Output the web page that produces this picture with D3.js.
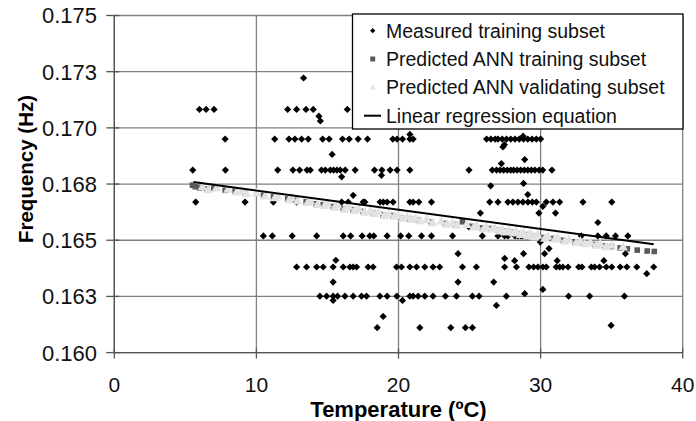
<!DOCTYPE html>
<html>
<head>
<meta charset="utf-8">
<script src="https://cdn.jsdelivr.net/npm/d3@7/dist/d3.min.js"></script>
<style>
  body { margin: 0; background: #fff; }
  svg { display: block; font-family: "Liberation Sans", Arial, sans-serif; }
</style>
</head>
<body>
<div id="chart"></div>
<script>
// ---- data ----
const xTicks = [0, 10, 20, 30, 40];
const yTicks = [0.160, 0.1625, 0.165, 0.1675, 0.170, 0.1725, 0.175];
const yTickLabels = ["0.160", "0.163", "0.165", "0.168", "0.170", "0.173", "0.175"];

// measured training subset [temperature, frequency]
const measured = [
  [13.32, 0.17222],
  [5.99, 0.17082], [6.46, 0.17082], [7.02, 0.17082], [12.2, 0.17082], [12.83, 0.17082],
  [13.49, 0.17082], [14.0, 0.17082], [16.4, 0.17082], [14.4, 0.17052], [14.5, 0.17031],
  [7.8, 0.1695], [11.29, 0.1695], [12.29, 0.1695], [12.71, 0.1695], [13.18, 0.1695], [13.65, 0.1695],
  [14.66, 0.1695], [15.12, 0.1695], [16.06, 0.1695], [16.53, 0.1695], [17.16, 0.1695], [17.82, 0.1695],
  [19.6, 0.1695], [19.9, 0.1695], [20.28, 0.1695], [20.8, 0.1695], [21.03, 0.1695], [20.8, 0.16971],
  [26.2, 0.1695], [26.5, 0.1695], [26.8, 0.1695], [27.0, 0.1695], [27.3, 0.1695], [27.6, 0.1695],
  [27.9, 0.1695], [28.2, 0.1695], [28.5, 0.1695], [28.8, 0.1695], [29.1, 0.1695], [29.4, 0.1695],
  [29.7, 0.1695], [30.0, 0.1695], [28.77, 0.16963], [27.35, 0.16915], [27.45, 0.16925],
  [5.52, 0.16812], [7.82, 0.16812], [11.5, 0.16812], [12.57, 0.16812], [13.04, 0.16812], [13.56, 0.16812],
  [13.79, 0.16812], [14.58, 0.16812], [14.85, 0.16812], [15.2, 0.16812], [15.43, 0.16812], [15.66, 0.16812],
  [15.9, 0.16812], [16.25, 0.16812], [16.95, 0.16812], [18.31, 0.16812], [18.83, 0.16812], [19.41, 0.16812],
  [19.9, 0.16812], [20.8, 0.16812], [24.96, 0.16812], [26.6, 0.16812], [26.9, 0.16812], [27.15, 0.16812],
  [27.4, 0.16812], [27.65, 0.16812], [27.9, 0.16812], [28.1, 0.16812], [28.35, 0.16812], [28.6, 0.16812],
  [28.85, 0.16812], [29.1, 0.16812], [29.35, 0.16812], [29.6, 0.16812], [29.9, 0.16812], [30.15, 0.16812],
  [30.8, 0.16812], [15.33, 0.16882], [16.0, 0.16782], [18.8, 0.16789], [27.24, 0.16841], [28.88, 0.16859],
  [26.49, 0.16742], [28.8, 0.16753], [29.1, 0.16703],
  [5.73, 0.1667], [9.2, 0.1667], [11.19, 0.1667], [12.83, 0.1667], [16.0, 0.1667], [16.46, 0.1667],
  [17.51, 0.1667], [17.63, 0.1667], [18.7, 0.1667], [18.93, 0.1667], [19.2, 0.1667], [19.62, 0.1667],
  [20.8, 0.1667], [21.03, 0.1667], [21.43, 0.1667], [22.32, 0.1667], [26.42, 0.1667], [27.0, 0.1667],
  [27.7, 0.1667], [28.05, 0.1667], [28.41, 0.1667], [28.76, 0.1667], [29.11, 0.1667], [29.42, 0.1667],
  [29.7, 0.1667], [30.4, 0.1667], [30.87, 0.1667], [31.34, 0.1667], [32.98, 0.1667], [35.01, 0.1667],
  [16.81, 0.167], [30.16, 0.16651], [29.88, 0.16621], [31.05, 0.16621], [25.76, 0.16621],
  [34.03, 0.16579], [24.96, 0.16559],
  [10.49, 0.16519], [11.12, 0.16519], [12.52, 0.16519], [14.24, 0.16519], [16.11, 0.16519], [16.63, 0.16519],
  [17.44, 0.16519], [17.98, 0.16519], [18.26, 0.16519], [19.2, 0.16519], [20.15, 0.16519], [20.72, 0.16519],
  [21.62, 0.16519], [22.32, 0.16519], [23.8, 0.16519], [25.9, 0.16519], [27.0, 0.16519], [27.47, 0.16519],
  [27.7, 0.16519], [28.2, 0.16519], [28.4, 0.16519], [28.6, 0.16519], [28.75, 0.16519], [28.9, 0.16519],
  [29.05, 0.16519], [32.86, 0.16519], [34.03, 0.16519], [34.62, 0.16519], [35.27, 0.16519], [36.14, 0.16519],
  [29.98, 0.16492], [30.28, 0.1644], [30.59, 0.16463], [24.19, 0.1644], [27.47, 0.16419], [28.17, 0.16409],
  [28.8, 0.1644], [31.17, 0.16409], [34.45, 0.16409], [35.97, 0.1644], [15.59, 0.16411],
  [12.83, 0.16381], [13.53, 0.16381], [14.24, 0.16381], [14.7, 0.16381], [15.4, 0.16381], [16.11, 0.16381],
  [16.58, 0.16381], [16.81, 0.16381], [17.05, 0.16381], [17.86, 0.16381], [18.21, 0.16381], [19.86, 0.16381],
  [20.21, 0.16381], [20.8, 0.16381], [21.27, 0.16381], [21.85, 0.16381], [22.43, 0.16381], [22.9, 0.16381],
  [24.5, 0.16381], [25.48, 0.16381], [27.47, 0.16381], [28.3, 0.16381], [29.18, 0.16381], [29.51, 0.16381],
  [29.81, 0.16381], [30.16, 0.16381], [30.4, 0.16381], [31.1, 0.16381], [31.34, 0.16381], [31.57, 0.16381],
  [31.93, 0.16381], [32.68, 0.16381], [32.91, 0.16381], [33.57, 0.16381], [33.8, 0.16381], [34.15, 0.16381],
  [34.62, 0.16381], [35.01, 0.16381], [35.6, 0.16381], [36.07, 0.16381], [36.77, 0.16381], [37.96, 0.16381],
  [37.47, 0.16351], [24.19, 0.16314], [26.7, 0.16314], [15.4, 0.16314], [30.16, 0.16281], [28.88, 0.16262],
  [14.47, 0.16251], [14.94, 0.16251], [15.4, 0.16251], [15.71, 0.16251], [16.23, 0.16251], [16.81, 0.16251],
  [17.4, 0.16251], [17.75, 0.16251], [18.69, 0.16251], [19.2, 0.16251], [19.88, 0.16251], [20.8, 0.16251],
  [21.03, 0.16251], [21.38, 0.16251], [21.85, 0.16251], [22.43, 0.16251], [23.3, 0.16251], [24.08, 0.16251],
  [25.2, 0.16251], [25.67, 0.16251], [27.59, 0.16251], [31.97, 0.16251], [33.45, 0.16251], [35.9, 0.16251],
  [15.4, 0.16232], [20.28, 0.16232], [26.89, 0.1621], [18.92, 0.16161],
  [18.5, 0.16111], [21.5, 0.16111], [23.68, 0.16111], [24.71, 0.16111], [25.2, 0.16111], [34.96, 0.16121]
];

// predicted ANN training subset
const predTraining = [
  [5.5, 0.16745], [5.7, 0.16738], [6.0, 0.16733], [6.5, 0.16728], [7.0, 0.16731], [7.8, 0.16722],
  [8.5, 0.16718], [9.2, 0.16712], [10.5, 0.167], [11.2, 0.16693], [12.2, 0.16684], [12.8, 0.16678],
  [13.5, 0.16671], [14.2, 0.16662], [14.7, 0.16658], [15.4, 0.1665], [16.1, 0.16641], [16.8, 0.16636],
  [17.5, 0.16628], [18.2, 0.16622], [18.9, 0.16614], [19.6, 0.1661], [20.2, 0.166], [20.8, 0.16596],
  [21.4, 0.1659], [22.3, 0.16581], [23.3, 0.16575], [24.0, 0.1657], [24.5, 0.16582], [25.2, 0.16562],
  [25.9, 0.16555], [26.5, 0.16552], [27.0, 0.16545], [27.5, 0.1654], [28.0, 0.16536], [28.5, 0.16529],
  [29.0, 0.16525], [29.5, 0.16518], [30.2, 0.16512], [30.9, 0.16508], [31.6, 0.165], [32.4, 0.16493],
  [33.0, 0.16488], [33.8, 0.16481], [34.5, 0.16475], [35.0, 0.16472], [35.6, 0.16466], [36.1, 0.16462],
  [36.8, 0.16456], [37.5, 0.16452], [38.0, 0.1645]
];

// predicted ANN validating subset
const predValidating = [
  [6.2, 0.1674], [6.6, 0.16726], [7.2, 0.16735], [8.0, 0.16728], [8.6, 0.16716], [9.0, 0.16722],
  [9.3, 0.1671], [10.0, 0.16712], [10.6, 0.16698], [11.3, 0.16691], [11.5, 0.167], [12.3, 0.16682],
  [12.5, 0.1669], [12.9, 0.16676], [13.6, 0.16669], [13.8, 0.16676], [14.3, 0.1666], [14.8, 0.16656],
  [15.0, 0.16664], [15.5, 0.16648], [15.7, 0.16658], [16.2, 0.16639], [16.5, 0.1665], [16.9, 0.16634],
  [17.2, 0.1664], [17.6, 0.16626], [18.0, 0.16632], [18.3, 0.1662], [18.6, 0.16628], [19.0, 0.16612],
  [19.3, 0.1662], [19.7, 0.16608], [20.0, 0.16612], [20.3, 0.16598], [20.6, 0.16606], [20.9, 0.16594],
  [21.2, 0.166], [21.5, 0.16588], [22.0, 0.16594], [22.4, 0.16579], [23.0, 0.16586], [23.4, 0.16573],
  [23.8, 0.1658], [24.1, 0.16568], [24.8, 0.16572], [25.3, 0.1656], [25.5, 0.16566], [26.0, 0.16553],
  [26.2, 0.1656], [26.6, 0.1655], [26.8, 0.16554], [27.1, 0.16543], [27.3, 0.1655], [27.6, 0.16538],
  [27.8, 0.16545], [28.1, 0.16534], [28.3, 0.1654], [28.6, 0.16527], [28.8, 0.16535], [29.1, 0.16523],
  [29.3, 0.1653], [29.6, 0.16516], [29.8, 0.16525], [30.3, 0.1651], [30.5, 0.1652], [31.0, 0.16506],
  [31.2, 0.16512], [31.7, 0.16498], [32.0, 0.16505], [32.5, 0.16491], [32.8, 0.16498], [33.1, 0.16486],
  [33.5, 0.16492], [33.9, 0.16479], [34.2, 0.16485], [34.6, 0.16473], [35.0, 0.16479], [35.8, 0.16472]
];

// linear regression equation end points
const regression = [[5.57, 0.16759], [37.96, 0.16482]];

const legendLabels = [
  "Measured training subset",
  "Predicted ANN training subset",
  "Predicted ANN validating subset",
  "Linear regression equation"
];

// ---- layout ----
const width = 696, height = 421;
const plotLeft = 114.3, plotRight = 682.7, plotTop = 15.5, plotBottom = 352.6;

const svg = d3.select("#chart").append("svg")
  .attr("width", width)
  .attr("height", height);

const x = d3.scaleLinear().domain([0, 40]).range([plotLeft, plotRight]);
const y = d3.scaleLinear().domain([0.160, 0.175]).range([plotBottom, plotTop]);

// gridlines
svg.append("g").selectAll("line")
  .data(yTicks)
  .join("line")
  .attr("x1", plotLeft).attr("x2", plotRight)
  .attr("y1", d => y(d)).attr("y2", d => y(d))
  .attr("stroke", "#808080").attr("stroke-width", 1.3);

svg.append("g").selectAll("line")
  .data(xTicks)
  .join("line")
  .attr("x1", d => x(d)).attr("x2", d => x(d))
  .attr("y1", plotTop).attr("y2", plotBottom)
  .attr("stroke", "#808080").attr("stroke-width", 1.3);

// axes (cross tick marks)
const yAxis = svg.append("g");
yAxis.append("line")
  .attr("x1", plotLeft).attr("x2", plotLeft).attr("y1", plotTop).attr("y2", plotBottom)
  .attr("stroke", "#555").attr("stroke-width", 1.3);
yAxis.selectAll("line.t")
  .data(yTicks)
  .join("line")
  .attr("class", "t")
  .attr("x1", plotLeft - 8).attr("x2", plotLeft + 5)
  .attr("y1", d => y(d)).attr("y2", d => y(d))
  .attr("stroke", "#555").attr("stroke-width", 1.3);
yAxis.selectAll("text")
  .data(yTicks)
  .join("text")
  .attr("x", 97)
  .attr("y", d => y(d))
  .attr("dy", "0.36em")
  .attr("text-anchor", "end")
  .attr("font-size", "22px")
  .attr("fill", "#111")
  .text((d, i) => yTickLabels[i]);

const xAxis = svg.append("g");
xAxis.append("line")
  .attr("x1", plotLeft).attr("x2", plotRight).attr("y1", plotBottom).attr("y2", plotBottom)
  .attr("stroke", "#555").attr("stroke-width", 1.3);
xAxis.selectAll("line.t")
  .data(xTicks)
  .join("line")
  .attr("class", "t")
  .attr("x1", d => x(d)).attr("x2", d => x(d))
  .attr("y1", plotBottom - 4).attr("y2", plotBottom + 6)
  .attr("stroke", "#555").attr("stroke-width", 1.3);
xAxis.selectAll("text")
  .data(xTicks)
  .join("text")
  .attr("x", d => x(d))
  .attr("y", 392)
  .attr("text-anchor", "middle")
  .attr("font-size", "21px")
  .attr("fill", "#111")
  .text(d => d);

// axis titles
svg.append("text")
  .attr("x", 398.5).attr("y", 416.5)
  .attr("text-anchor", "middle")
  .attr("font-size", "22px").attr("font-weight", "bold")
  .text("Temperature (ºC)");

svg.append("text")
  .attr("transform", "translate(32.5,169) rotate(-90)")
  .attr("text-anchor", "middle")
  .attr("font-size", "20.5px").attr("font-weight", "bold")
  .text("Frequency (Hz)");

// marker shapes
function diamond(r) { return `M0,${-r}L${r},0L0,${r}L${-r},0Z`; }
function square(s) { return `M${-s},${-s}H${s}V${s}H${-s}Z`; }
function triangle(s) { return `M0,${-s}L${s},${s * 0.8}L${-s},${s * 0.8}Z`; }

const plot = svg.append("g");

plot.append("g").selectAll("path")
  .data(measured)
  .join("path")
  .attr("d", diamond(3.6))
  .attr("transform", d => `translate(${x(d[0])},${y(d[1])})`)
  .attr("fill", "#000");

plot.append("g").selectAll("path")
  .data(predTraining)
  .join("path")
  .attr("d", square(2.8))
  .attr("transform", d => `translate(${x(d[0])},${y(d[1])})`)
  .attr("fill", "#5a5a5a");

plot.append("g").selectAll("path")
  .data(predValidating)
  .join("path")
  .attr("d", triangle(4.8))
  .attr("transform", d => `translate(${x(d[0])},${y(d[1])})`)
  .attr("fill", "#e2e2e2");

plot.append("path")
  .datum(regression)
  .attr("d", d3.line().x(d => x(d[0])).y(d => y(d[1])))
  .attr("fill", "none")
  .attr("stroke", "#000")
  .attr("stroke-width", 2);

// legend
const legend = svg.append("g");
legend.append("rect")
  .attr("x", 352.5).attr("y", 14)
  .attr("width", 330.5).attr("height", 115)
  .attr("fill", "#fff")
  .attr("stroke", "#000").attr("stroke-width", 1.3);

const rowY = [30.7, 59, 87.3, 115.7];
legend.selectAll("text")
  .data(legendLabels)
  .join("text")
  .attr("x", 386)
  .attr("y", (d, i) => rowY[i])
  .attr("dy", "0.36em")
  .attr("font-size", "19.5px")
  .attr("fill", "#111")
  .text(d => d);

legend.append("path").attr("d", diamond(2.6))
  .attr("transform", `translate(372.7,${rowY[0]})`).attr("fill", "#000");
legend.append("path").attr("d", square(2.5))
  .attr("transform", `translate(372.7,${rowY[1]})`).attr("fill", "#5a5a5a");
legend.append("path").attr("d", triangle(2.8))
  .attr("transform", `translate(372.7,${rowY[2]})`).attr("fill", "#e2e2e2");
legend.append("line")
  .attr("x1", 364).attr("x2", 381)
  .attr("y1", rowY[3]).attr("y2", rowY[3])
  .attr("stroke", "#000").attr("stroke-width", 2);
</script>
</body>
</html>
